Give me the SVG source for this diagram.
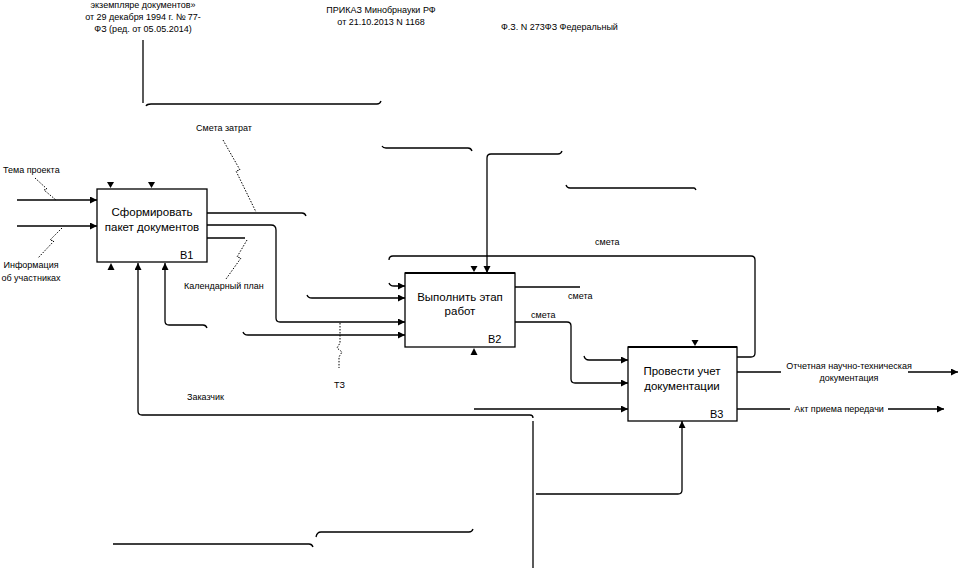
<svg xmlns="http://www.w3.org/2000/svg" width="960" height="568" viewBox="0 0 960 568">
<defs>
<marker id="ah" markerWidth="8" markerHeight="8" refX="7" refY="3.5" orient="auto" markerUnits="userSpaceOnUse">
<path d="M0,0 L7,3.5 L0,7 z" fill="#000"/>
</marker>
<style>
.ln{fill:none;stroke:#000;stroke-width:1.3}
.sq{fill:none;stroke:#000;stroke-width:1;stroke-dasharray:1.5 1.5}
.box{fill:#fff;stroke:#000;stroke-width:1.3}
.top{stroke:#000;stroke-width:2}
.lbl{font-family:"Liberation Sans","DejaVu Sans",sans-serif;font-size:9px;fill:#000}
.bt{font-family:"Liberation Sans","DejaVu Sans",sans-serif;font-size:11.5px;fill:#000;text-anchor:middle}
.id{font-family:"Liberation Sans","DejaVu Sans",sans-serif;font-size:11px;fill:#000}
.ah{fill:#000}
</style>
</defs>
<rect width="960" height="568" fill="#fff"/>

<g id="connectors">
<path class="ln" d="M17,200 H97" marker-end="url(#ah)"/>
<path class="ln" d="M17,226 H97" marker-end="url(#ah)"/>
<path class="ln" d="M207,213 H302 Q305,213 306,216"/>
<path class="ln" d="M207,225 H271 Q276,225 276,230 V318 Q276,322 280,322 H405" marker-end="url(#ah)"/>
<path class="ln" d="M207,238 H245"/>
<path class="ln" d="M533,418 Q533,415 530,415 H142 Q138,415 138,411 V263" marker-end="url(#ah)"/>
<path class="ln" d="M207,328 Q206,325 203,325 H169 Q165,325 165,321 V263" marker-end="url(#ah)"/>
<path class="ln" d="M243,332 Q244,335 248,335 H405" marker-end="url(#ah)"/>
<path class="ln" d="M307,295 Q308,298 312,298 H405" marker-end="url(#ah)"/>
<path class="ln" d="M737,357 H751 Q755,357 755,353 V260 Q755,256 751,256 H393 Q389,256 389,260"/>
<path class="ln" d="M389,283 Q390,286 394,286 H405" marker-end="url(#ah)"/>
<path class="ln" d="M515,287 H580"/>
<path class="ln" d="M515,322 H567 Q571,322 571,326 V379 Q571,383 575,383 H628" marker-end="url(#ah)"/>
<path class="ln" d="M584,356 Q585,360 589,360 H628" marker-end="url(#ah)"/>
<path class="ln" d="M474,409 H628" marker-end="url(#ah)"/>
<path class="ln" d="M737,372 H781"/>
<path class="ln" d="M908,372 H958" marker-end="url(#ah)"/>
<path class="ln" d="M737,409 H790"/>
<path class="ln" d="M888,409 H944" marker-end="url(#ah)"/>
<path class="ln" d="M536,494 H678 Q682,494 682,490 V421" marker-end="url(#ah)"/>
<path class="ln" d="M533,421 V568"/>
<path class="ln" d="M487,158 Q487,154 491,154 H558 Q561,154 562,151"/>
<path class="ln" d="M487,158 V273" marker-end="url(#ah)"/>
<path class="ln" d="M382,146 Q383,148 386,148 H468 Q471,148 472,151"/>
<path class="ln" d="M566,185 Q567,188 570,188 H694 Q695,188 696,190"/>
<path class="ln" d="M143,40 V103"/>
<path class="ln" d="M146,106 Q147,104 151,104 H377 Q380,104 381,101"/>
<path class="ln" d="M113,544 H309 Q312,544 313,547"/>
<path class="ln" d="M316,537 Q317,532 321,532 H469 Q472,532 473,529"/>
<path class="sq" d="M35,178 L47,189 L44,190 L56,200"/>
<path class="sq" d="M62,228 L50,240 L54,241 L38,258"/>
<path class="sq" d="M223,140 L240,170 L236,171 L256,212"/>
<path class="sq" d="M247,240 L237,257 L241,258 L226,279"/>
<path class="sq" d="M340,323 V343 L337,348 L342,352 L339,357 V368"/>
</g>

<g id="B1">
<rect class="box" x="97" y="189" width="110" height="73"/>
<polygon class="ah" points="107,182 114,182 110.5,188"/>
<polygon class="ah" points="148,182 155,182 151.5,188"/>
<polygon class="ah" points="107.5,270 114.5,270 111,263"/>
<text class="bt" x="152" y="216">Сформировать</text>
<text class="bt" x="152" y="231">пакет документов</text>
<text class="id" x="180" y="259">В1</text>
</g>

<g id="B2">
<rect class="box" x="405" y="273" width="110" height="74"/>
<line class="top" x1="405" y1="273" x2="515" y2="273"/>
<polygon class="ah" points="470.5,266 477.5,266 474,272"/>
<polygon class="ah" points="470.5,355 477.5,355 474,348"/>
<text class="bt" x="460" y="301">Выполнить этап</text>
<text class="bt" x="460" y="315">работ</text>
<text class="id" x="488" y="343">В2</text>
</g>

<g id="B3">
<rect class="box" x="628" y="347" width="109" height="74"/>
<line class="top" x1="628" y1="347" x2="737" y2="347"/>
<polygon class="ah" points="691.5,340 698.5,340 695,346"/>
<text class="bt" x="682" y="375">Провести учет</text>
<text class="bt" x="682" y="390">документации</text>
<text class="id" x="710" y="418">В3</text>
</g>

<g id="labels">
<text class="lbl" x="143" y="8" text-anchor="middle">экземпляре документов»</text>
<text class="lbl" x="143" y="20" text-anchor="middle">от 29 декабря 1994 г. № 77-</text>
<text class="lbl" x="143" y="32" text-anchor="middle">ФЗ (ред. от 05.05.2014)</text>
<text class="lbl" x="381" y="13" text-anchor="middle">ПРИКАЗ Минобрнауки РФ</text>
<text class="lbl" x="381" y="25" text-anchor="middle">от 21.10.2013 N 1168</text>
<text class="lbl" x="501" y="30">Ф.З. N 273ФЗ Федеральный</text>
<text class="lbl" x="196" y="131">Смета затрат</text>
<text class="lbl" x="3" y="173">Тема проекта</text>
<text class="lbl" x="31" y="268" text-anchor="middle">Информация</text>
<text class="lbl" x="31" y="281" text-anchor="middle">об участниках</text>
<text class="lbl" x="184" y="289">Календарный план</text>
<text class="lbl" x="334" y="388">ТЗ</text>
<text class="lbl" x="187" y="400">Заказчик</text>
<text class="lbl" x="595" y="245">смета</text>
<text class="lbl" x="568" y="299">смета</text>
<text class="lbl" x="531" y="318">смета</text>
<text class="lbl" x="849" y="369" text-anchor="middle">Отчетная научно-техническая</text>
<text class="lbl" x="849" y="381" text-anchor="middle">документация</text>
<text class="lbl" x="839" y="412" text-anchor="middle">Акт приема передачи</text>
</g>
</svg>
